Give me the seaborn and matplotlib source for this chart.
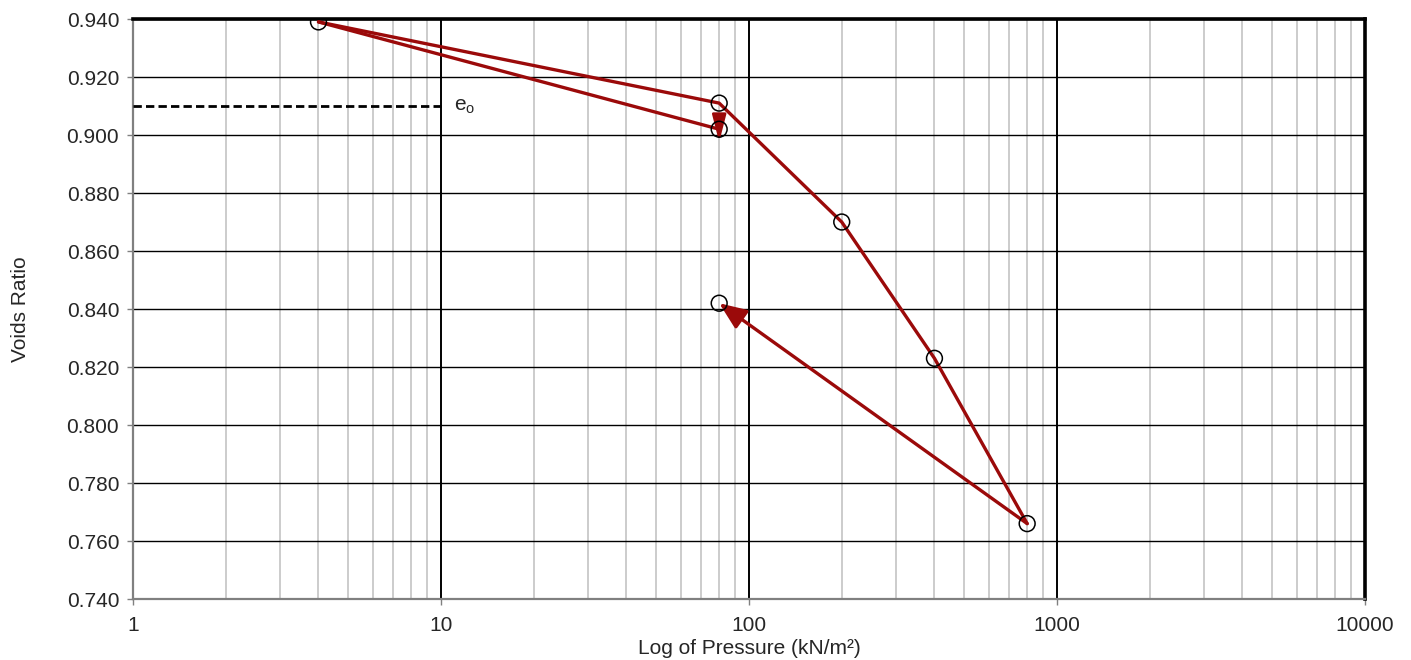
import numpy as np
import pandas as pd
import seaborn as sns
import matplotlib.pyplot as plt
from matplotlib.ticker import FuncFormatter, LogLocator, NullFormatter

# Data
load_p = [4, 80, 200, 400, 800]
load_e = [0.939, 0.911, 0.870, 0.823, 0.766]
unload_p = [800, 80]
unload_e = [0.766, 0.842]
reload_p = [4, 80]
reload_e = [0.939, 0.902]
e0_p = [1, 10]
e0_e = [0.910, 0.910]
y_ticks = [0.74, 0.76, 0.78, 0.80, 0.82, 0.84, 0.86, 0.88, 0.90, 0.92, 0.94]
x_ticks = [1, 10, 100, 1000, 10000]

sns.set_style("white")
plt.rcParams['font.family'] = ['Liberation Sans', 'DejaVu Sans']
plt.rcParams['mathtext.default'] = 'regular'
plt.rcParams['font.size'] = 15

red = '#9b0a0a'

fig, ax = plt.subplots(figsize=(14.11, 6.6), dpi=100)
fig.subplots_adjust(left=0.0943, right=0.9674, top=0.9712, bottom=0.0924)

ax.set_xscale('log')
ax.set_xlim(1, 10000)
ax.set_ylim(0.74, 0.94)

# grid
ax.xaxis.set_minor_locator(LogLocator(base=10, subs=np.arange(2, 10)))
ax.xaxis.set_minor_formatter(NullFormatter())
ax.grid(which='minor', axis='x', color='#c8c8c8', lw=1.3)
ax.grid(which='major', axis='x', color='black', lw=1.4)
ax.grid(which='major', axis='y', color='black', lw=1.0)
ax.set_axisbelow(True)

# e0 dashed line
ax.plot(e0_p, e0_e, color='black', lw=2, ls=(0, (3, 1.5)), zorder=3)
ax.text(11, e0_e[0], 'e$_o$', ha='left', va='center', fontsize=15)

# loading curve
df_load = pd.DataFrame({'p': load_p, 'e': load_e})
sns.lineplot(data=df_load, x='p', y='e', sort=False, color=red, lw=2.4, ax=ax, zorder=4)

# unloading arrow
ax.annotate('', xy=(unload_p[1], unload_e[1]), xytext=(unload_p[0], unload_e[0]),
            arrowprops=dict(arrowstyle='-|>,head_length=1.1,head_width=0.45',
                            color=red, lw=2.4, shrinkA=0, shrinkB=0, mutation_scale=15),
            zorder=4)

# reloading line, its arrowhead sits vertically on the end point
sns.lineplot(x=reload_p, y=reload_e, sort=False, color=red, lw=2.4, ax=ax, zorder=4)
ax.annotate('', xy=(reload_p[1], reload_e[1] - 0.0045), xytext=(reload_p[1], reload_e[1] + 0.0035),
            arrowprops=dict(arrowstyle='-|>,head_length=1.1,head_width=0.28',
                            color=red, lw=2.0, shrinkA=0, shrinkB=0, mutation_scale=15),
            zorder=4)

# markers
df_pts = pd.DataFrame({'p': load_p + unload_p[1:] + reload_p[1:],
                       'e': load_e + unload_e[1:] + reload_e[1:]})
sns.scatterplot(data=df_pts, x='p', y='e', s=130, facecolor='none',
                edgecolor='black', linewidth=1.1, ax=ax, zorder=5)

ax.set_xticks(x_ticks)
ax.xaxis.set_major_formatter(FuncFormatter(lambda v, pos: f"{v:g}"))
ax.set_yticks(y_ticks)
ax.yaxis.set_major_formatter(FuncFormatter(lambda v, pos: f"{v:.3f}"))
ax.tick_params(which='major', direction='out', length=4, width=1, color='#808080',
               labelsize=15, pad=6, bottom=True, left=True)
ax.tick_params(axis='x', which='major', pad=8)
ax.tick_params(which='minor', length=0)

for s in ['left', 'bottom']:
    ax.spines[s].set_color('#808080')
    ax.spines[s].set_linewidth(1.6)
for s in ['top', 'right']:
    ax.spines[s].set_color('black')
    ax.spines[s].set_linewidth(2.6)

ax.set_xlabel('Log of Pressure (kN/m²)', fontsize=15, labelpad=3)
ax.set_ylabel('Voids Ratio', fontsize=15, labelpad=26)

fig.savefig('out.png', dpi=100)
